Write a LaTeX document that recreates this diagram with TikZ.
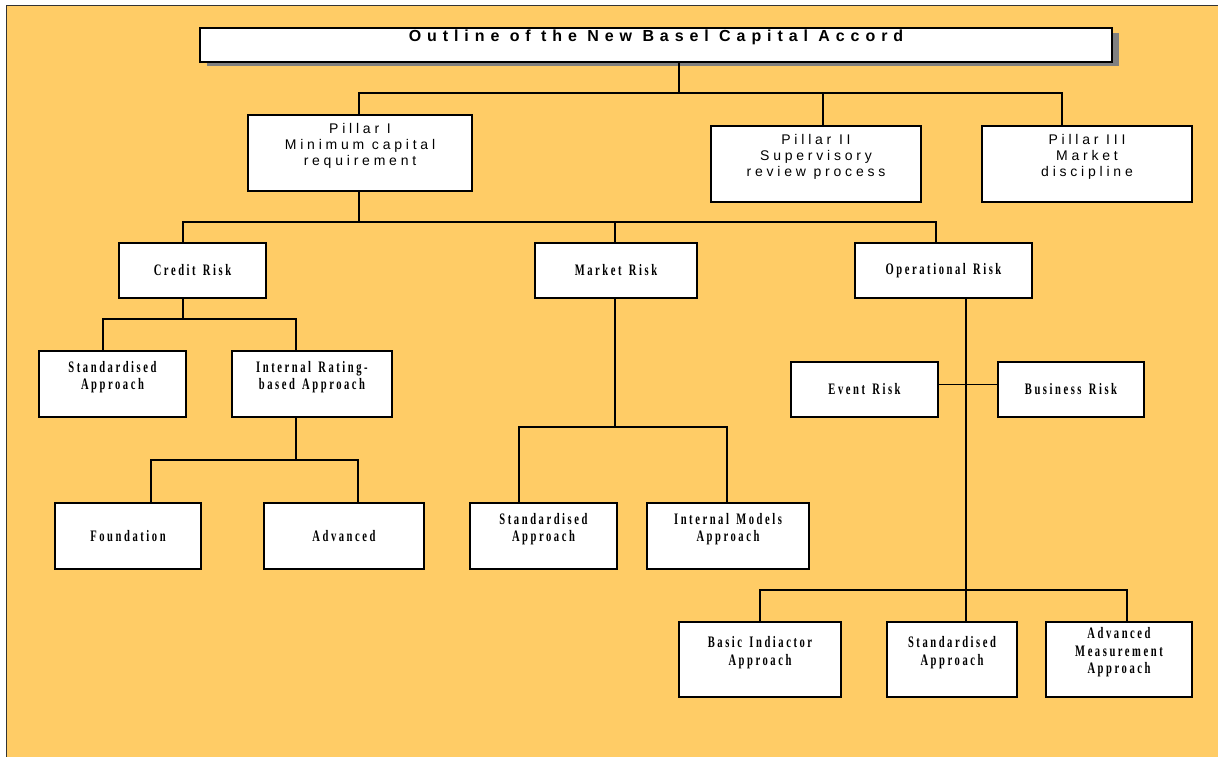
\documentclass[tikz,border=0pt]{standalone}
\usepackage{fontspec}
\newfontfamily\titlef[LetterSpace=37]{Liberation Sans}
\newfontfamily\pillf[LetterSpace=27]{Liberation Sans}
\newfontfamily\condf[FakeStretch=0.66,LetterSpace=16,WordSpace=1.4]{Liberation Serif}
\definecolor{bgorange}{RGB}{255,204,102}
\begin{document}
\begin{tikzpicture}[x=1pt,y=-1pt,
  box/.style={draw=black, line width=1.6pt, fill=white, inner sep=0pt},
  conn/.style={line width=1.5pt, line cap=rect},
  thinconn/.style={line width=1pt},
  ltxt/.style={font=\condf\bfseries\fontsize{16}{17.5}\selectfont, align=center, inner sep=0pt},
  ptxt/.style={font=\pillf\fontsize{14}{16.3}\selectfont, align=center, inner sep=0pt},
  ttxt/.style={font=\titlef\bfseries\fontsize{16}{19}\selectfont, inner sep=0pt}]
\useasboundingbox (0,0) rectangle (1218,757);
% background panel
\fill[bgorange] (6,6) rectangle (1218,757);
\draw[line width=1pt, gray!40!black] (6.5,757) -- (6.5,6) -- (1218,6);
% title with shadow
\fill[gray] (206.5,33) rectangle (1118.5,66);
\node[box, minimum width=912pt, minimum height=34pt] (title) at (656,45) {};
\node[ttxt] (titleT) at ([yshift=7.5pt]title.center) {Outline of the New Basel Capital Accord};
% pillars
\node[box, minimum width=224pt, minimum height=76pt] (p1) at (360,153) {};
\node[box, minimum width=210pt, minimum height=76pt] (p2) at (816,164) {};
\node[box, minimum width=210pt, minimum height=76pt] (p3) at (1087,164) {};
\node[ptxt] (p1T) at ([yshift=7pt]p1.center) {Pillar I\\Minimum capital\\requirement};
\node[ptxt] (p2T) at ([yshift=7pt]p2.center) {Pillar II\\Supervisory\\review process};
\node[ptxt] (p3T) at ([yshift=7pt]p3.center) {Pillar III\\Market\\discipline};
% risks
\node[box, minimum width=147pt, minimum height=55pt] (cr) at (192.5,270.5) {};
\node[box, minimum width=162pt, minimum height=55pt] (mr) at (616,270.5) {};
\node[box, minimum width=177pt, minimum height=55pt] (opr) at (943.5,270.5) {};
\node[ltxt] (crT) at (cr.center) {Credit Risk};
\node[ltxt] (mrT) at (mr.center) {Market Risk};
\node[ltxt] (oprT) at (opr.center) {Operational Risk};
% credit risk children
\node[box, minimum width=147pt, minimum height=66pt] (csa) at (112.5,384) {};
\node[box, minimum width=160pt, minimum height=66pt] (irb) at (312,384) {};
\node[ltxt] (csaT) at ([yshift=7pt]csa.center) {Standardised\\Approach};
\node[ltxt] (irbT) at ([yshift=7pt]irb.center) {Internal Rating-\\based Approach};
\node[box, minimum width=146pt, minimum height=66pt] (fnd) at (128,536) {};
\node[box, minimum width=160pt, minimum height=66pt] (adv) at (344,536) {};
\node[ltxt] (fndT) at (fnd.center) {Foundation};
\node[ltxt] (advT) at (adv.center) {Advanced};
% market risk children
\node[box, minimum width=147pt, minimum height=66pt] (msa) at (543.5,536) {};
\node[box, minimum width=162pt, minimum height=66pt] (imm) at (728,536) {};
\node[ltxt] (msaT) at ([yshift=7pt]msa.center) {Standardised\\Approach};
\node[ltxt] (immT) at ([yshift=7pt]imm.center) {Internal Models\\Approach};
% operational risk children
\node[box, minimum width=147pt, minimum height=55pt] (evt) at (864.5,389.5) {};
\node[box, minimum width=146pt, minimum height=55pt] (bus) at (1071,389.5) {};
\node[ltxt] (evtT) at (evt.center) {Event Risk};
\node[ltxt] (busT) at (bus.center) {Business Risk};
\node[box, minimum width=162pt, minimum height=75pt] (bia) at (760,659.5) {};
\node[box, minimum width=130pt, minimum height=75pt] (osa) at (952,659.5) {};
\node[box, minimum width=146pt, minimum height=75pt] (ama) at (1119,659.5) {};
\node[ltxt] (biaT) at ([yshift=7pt]bia.center) {Basic Indiactor\\Approach};
\node[ltxt] (osaT) at ([yshift=7pt]osa.center) {Standardised\\Approach};
\node[ltxt] (amaT) at ([yshift=7pt]ama.center) {Advanced\\Measurement\\Approach};
% bus levels
\coordinate (y93) at (0,93);
\coordinate (y222) at (0,222);
\coordinate (y319) at (0,319);
\coordinate (y460) at (0,460);
\coordinate (y427) at (0,427);
\coordinate (y590) at (0,590);
% taps
\coordinate (t0) at ([xshift=23pt]title.south);
\coordinate (t1) at ([xshift=-1pt]p1.north);
\coordinate (t2) at ([xshift=7pt]p2.north);
\coordinate (t3) at ([xshift=-25pt]p3.north);
\coordinate (s1) at ([xshift=-1pt]p1.south);
\coordinate (c1) at ([xshift=-9.5pt]cr.north);
\coordinate (m1) at ([xshift=-1pt]mr.north);
\coordinate (o1) at ([xshift=-7.5pt]opr.north);
\coordinate (c2) at ([xshift=-9.5pt]cr.south);
\coordinate (c3) at ([xshift=-9.5pt]csa.north);
\coordinate (c4) at ([xshift=-16pt]irb.north);
\coordinate (i1) at ([xshift=-16pt]irb.south);
\coordinate (i2) at ([xshift=23pt]fnd.north);
\coordinate (i3) at ([xshift=14pt]adv.north);
\coordinate (m2) at ([xshift=-1pt]mr.south);
\coordinate (m3) at ([xshift=-24.5pt]msa.north);
\coordinate (m4) at ([xshift=-1pt]imm.north);
\coordinate (o2) at ([xshift=22.5pt]opr.south);
\coordinate (o3) at (bia.north);
\coordinate (o4) at ([xshift=14pt]osa.north);
\coordinate (o5) at ([xshift=8pt]ama.north);
\coordinate (eb) at ([yshift=5.5pt]evt.east);
% connectors
\draw[conn] (t0) -- (t0 |- y93);
\draw[conn] (t1) -- (t1 |- y93) -- (t3 |- y93) -- (t3);
\draw[conn] (t2) -- (t2 |- y93);
\draw[conn] (s1) -- (s1 |- y222);
\draw[conn] (c1) -- (c1 |- y222) -- (o1 |- y222) -- (o1);
\draw[conn] (m1) -- (m1 |- y222);
\draw[conn] (c2) -- (c2 |- y319);
\draw[conn] (c3) -- (c3 |- y319) -- (c4 |- y319) -- (c4);
\draw[conn] (i1) -- (i1 |- y460);
\draw[conn] (i2) -- (i2 |- y460) -- (i3 |- y460) -- (i3);
\draw[conn] (m2) -- (m2 |- y427);
\draw[conn] (m3) -- (m3 |- y427) -- (m4 |- y427) -- (m4);
\draw[thinconn] (eb) -- (eb -| bus.west);
\draw[conn] (o2) -- (o2 |- y590);
\draw[conn] (o3) -- (o3 |- y590) -- (o5 |- y590) -- (o5);
\draw[conn] (o4) -- (o4 |- y590);
\end{tikzpicture}
\end{document}
